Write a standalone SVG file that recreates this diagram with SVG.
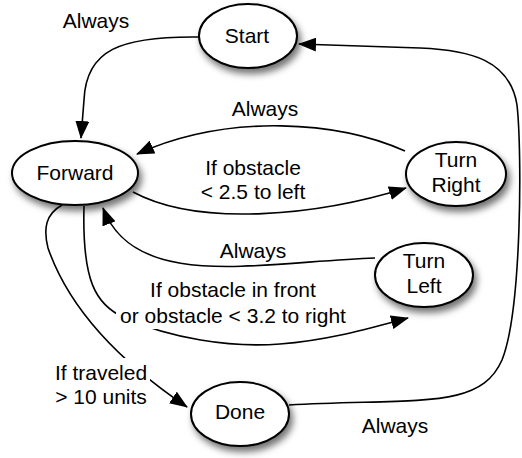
<svg xmlns="http://www.w3.org/2000/svg" width="522" height="458" viewBox="0 0 522 458">
<style>
text{font-family:"Liberation Sans",Arial,sans-serif;font-size:21px;fill:#000;text-anchor:middle}
.node ellipse{fill:#fff;stroke:#000;stroke-width:2;filter:url(#sh)}
.edge{fill:none;stroke:#000;stroke-width:1.6;marker-end:url(#ah)}
.bg{fill:#fff}
</style>
<defs>
<filter id="sh" x="-30%" y="-30%" width="170%" height="180%">
<feDropShadow dx="3" dy="5" stdDeviation="3.5" flood-color="#000" flood-opacity="0.55"/>
</filter>
<marker id="ah" markerUnits="userSpaceOnUse" markerWidth="18" markerHeight="14" refX="17" refY="7" orient="auto" viewBox="0 0 18 14">
<path d="M0,0 L18,7 L0,14 Z" fill="#000"/>
</marker>
</defs>
<g id="connectors">
<path class="edge" d="M199,37 C120,36 86,50 84,100 L81,138"/>
<path class="edge" d="M405,151 C340,122 230,112 137,154"/>
<path class="edge" d="M133,192 C200,228 320,215 406,188"/>
<path class="edge" d="M375,258 C260,262 135,292 103,208"/>
<path class="edge" d="M84,206 C82,280 95,305 125,318 C170,338 230,348 280,344 C330,340 370,328 408,318"/>
<path class="edge" d="M62,205 C46,214 43,228 48,248 C66,300 110,355 187,407"/>
<path class="edge" d="M289,405 C420,398 480,410 502,360 C522,310 522,150 517,105 C510,60 470,50 420,48 C370,46 330,45 299,44"/>
<text x="96" y="28">Always</text>
<text x="265" y="116">Always</text>
<text x="253" y="175">If obstacle</text>
<text x="253" y="199">&lt; 2.5 to left</text>
<text x="253" y="258">Always</text>
<rect class="bg" x="116" y="305" width="234" height="24"/>
<text x="233" y="297">If obstacle in front</text>
<text x="233" y="323">or obstacle &lt; 3.2 to right</text>
<rect class="bg" x="52" y="358" width="98" height="52"/>
<text x="101" y="380">If traveled</text>
<text x="101" y="404">&gt; 10 units</text>
<text x="395" y="433">Always</text>
</g>
<g id="start" class="node">
<ellipse cx="248" cy="36" rx="49" ry="32"/>
<text x="247" y="43">Start</text>
</g>
<g id="forward" class="node">
<ellipse cx="75" cy="173" rx="63" ry="32"/>
<text x="75" y="180">Forward</text>
</g>
<g id="turn-right" class="node">
<ellipse cx="456" cy="174" rx="50" ry="32"/>
<text x="456" y="167">Turn</text>
<text x="456" y="192">Right</text>
</g>
<g id="turn-left" class="node">
<ellipse cx="424" cy="275" rx="49" ry="32"/>
<text x="424" y="268">Turn</text>
<text x="424" y="293">Left</text>
</g>
<g id="done" class="node">
<ellipse cx="240" cy="414" rx="49" ry="32"/>
<text x="240" y="419">Done</text>
</g>
</svg>
